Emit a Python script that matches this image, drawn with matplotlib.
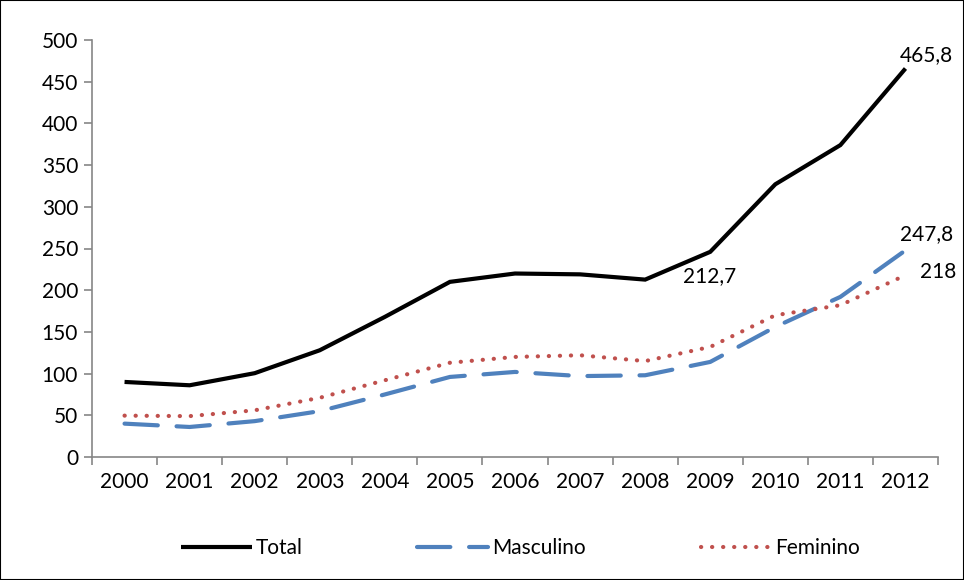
import matplotlib
matplotlib.use("Agg")
import matplotlib.pyplot as plt
from matplotlib.patches import Rectangle
import numpy as np

years = ["2000", "2001", "2002", "2003", "2004", "2005", "2006",
         "2007", "2008", "2009", "2010", "2011", "2012"]
total = [90, 86, 100.5, 128, 168, 210, 220, 219, 212.7, 246, 327, 374, 465.8]
masculino = [40, 36, 43, 55, 75, 96, 102, 97, 98, 114, 156, 192, 247.8]
feminino = [49.6, 49, 56, 71, 92, 113, 120, 122, 115, 132, 170, 182, 218]

plt.rcParams['font.family'] = ['Lato', 'DejaVu Sans']
FS = 15

fig = plt.figure(figsize=(9.64, 5.8), dpi=100)
ax = fig.add_axes([92/964, 1-457/580, (938-92)/964, (457-40)/580])

x = np.arange(len(years))
ax.plot(x, total, color='black', lw=3.0, solid_capstyle='butt', solid_joinstyle='miter', label='Total')
ax.plot(x, masculino, color='#4F81BD', lw=3.0, dashes=(8, 4.5), dash_capstyle='round', label='Masculino')
ax.plot(x, feminino, color='#C0504D', lw=3.0, dashes=(0.05, 2.6), dash_capstyle='round', label='Feminino')

ax.set_xlim(-0.5, len(years) - 0.5)
ax.set_ylim(0, 500)
ax.set_yticks(np.arange(0, 501, 50))
ax.set_xticks(x)
ax.set_xticklabels(years)
ax.set_xticks(np.arange(-0.5, len(years), 1), minor=True)
ax.tick_params(axis='x', which='major', length=0, pad=11, labelsize=FS)
ax.tick_params(axis='x', which='minor', length=6, color='#868686', width=1.2, direction='out')
ax.tick_params(axis='y', length=6, color='#868686', width=1.2, labelsize=FS, pad=4)
for s in ['top', 'right']:
    ax.spines[s].set_visible(False)
for s in ['left', 'bottom']:
    ax.spines[s].set_color('#868686')
    ax.spines[s].set_linewidth(1.2)

ax.text(11.91, 482, "465,8", fontsize=FS, va='center', ha='left')
ax.text(8.58, 217, "212,7", fontsize=FS, va='center', ha='left')
ax.text(11.91, 267, "247,8", fontsize=FS, va='center', ha='left')
ax.text(12.22, 222, "218", fontsize=FS, va='center', ha='left')

fig.legend(loc='center', bbox_to_anchor=(0.54, 1-548/580), ncol=3, frameon=False,
           fontsize=FS, handlelength=3.4, columnspacing=5.5, handletextpad=0.2)

fig.patches.append(Rectangle((0, 0), 1, 1, transform=fig.transFigure, fill=False,
                             edgecolor='black', lw=1.5))

fig.savefig("out.png", dpi=100)
